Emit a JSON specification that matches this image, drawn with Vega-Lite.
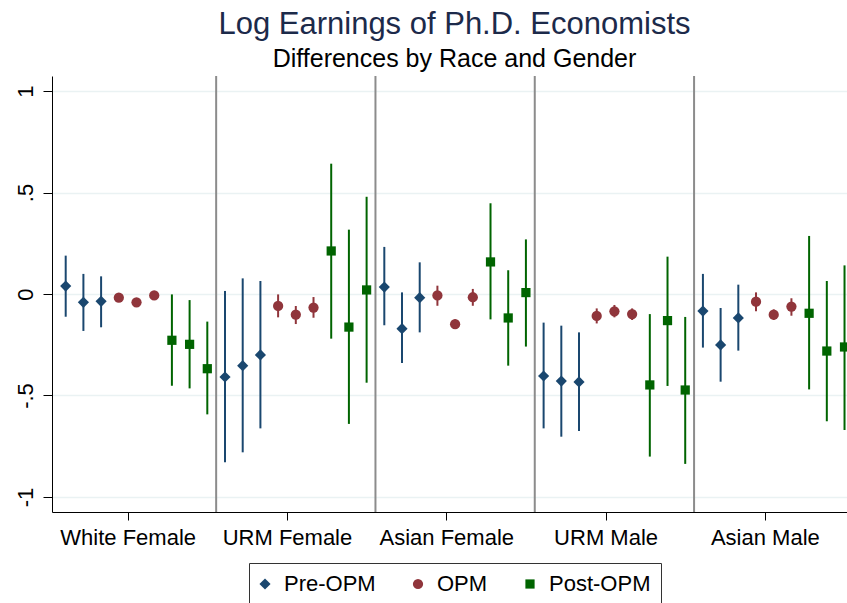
{
  "$schema": "https://vega.github.io/schema/vega-lite/v6.json",
  "width": 795,
  "height": 436,
  "autosize": {"type": "none"},
  "padding": {"left": 52, "top": 76, "right": 0, "bottom": 91},
  "background": "white",
  "title": {
    "text": "Log Earnings of Ph.D. Economists",
    "subtitle": "Differences by Race and Gender",
    "font": "Liberation Sans",
    "subtitleFont": "Liberation Sans",
    "fontSize": 31,
    "subtitleFontSize": 25,
    "fontWeight": "normal",
    "color": "#1c2a4a",
    "subtitleColor": "#000000",
    "anchor": "middle",
    "dx": 5,
    "offset": 2,
    "subtitlePadding": 6
  },
  "config": {
    "view": {"stroke": null},
    "axis": {
      "labelFont": "Liberation Sans",
      "labelFontSize": 22,
      "labelColor": "#000000",
      "domainColor": "#000000",
      "tickColor": "#000000",
      "domainWidth": 1,
      "tickWidth": 1
    },
    "legend": {
      "labelFont": "Liberation Sans",
      "labelFontSize": 22,
      "labelColor": "#000000"
    }
  },
  "layer": [
    {
      "data": {"values": [{"i": 9.5}, {"i": 18.5}, {"i": 27.5}, {"i": 36.5}]},
      "mark": {"type": "rule", "color": "#8c8c8c", "strokeWidth": 2},
      "encoding": {
        "x": {"field": "i", "type": "quantitative", "title": null}
      }
    },
    {
      "data": {"name": "est"},
      "mark": {"type": "rule", "strokeWidth": 2},
      "encoding": {
        "x": {"field": "i", "type": "quantitative", "title": null},
        "y": {"field": "lo", "type": "quantitative", "title": null},
        "y2": {"field": "hi"},
        "color": {"field": "series", "type": "nominal"}
      }
    },
    {
      "data": {"name": "est"},
      "mark": {"type": "point", "filled": true, "opacity": 1, "strokeWidth": 0},
      "encoding": {
        "x": {
          "field": "i",
          "type": "quantitative",
          "title": null,
          "scale": {"domain": [0.226, 45.14], "nice": false, "zero": false},
          "axis": {
            "values": [4.5, 13.5, 22.5, 31.5, 40.5],
            "labelExpr": "['White Female','URM Female','Asian Female','URM Male','Asian Male'][floor(datum.value / 9)]",
            "grid": false,
            "tickSize": 8,
            "labelPadding": 7,
            "labelFlush": false,
            "labelOverlap": false
          }
        },
        "y": {
          "field": "est",
          "type": "quantitative",
          "title": null,
          "scale": {"domain": [-1.074, 1.074], "nice": false, "zero": false},
          "axis": {
            "values": [-1, -0.5, 0, 0.5, 1],
            "labelExpr": "datum.value == 1 ? '1' : datum.value == -1 ? '-1' : datum.value == 0 ? '0' : datum.value > 0 ? '.5' : '-.5'",
            "grid": true,
            "gridColor": "#eaf2f3",
            "gridWidth": 1.5,
            "tickSize": 9,
            "labelAngle": 270,
            "labelAlign": "center",
            "labelBaseline": "alphabetic",
            "labelPadding": 11,
            "labelFlush": false,
            "labelOverlap": false
          }
        },
        "color": {
          "field": "series",
          "type": "nominal",
          "scale": {"domain": ["Pre-OPM", "OPM", "Post-OPM"], "range": ["#1a476f", "#90353b", "#006400"]},
          "legend": {
            "title": null,
            "orient": "none",
            "legendX": 197,
            "legendY": 487,
            "direction": "horizontal",
            "strokeColor": "#333333",
            "fillColor": "#ffffff",
            "padding": 10,
            "symbolSize": 60,
            "symbolStrokeWidth": 0,
            "symbolOffset": -5,
            "labelOffset": 8,
            "columnPadding": 36
          }
        },
        "shape": {
          "field": "series",
          "type": "nominal",
          "scale": {"domain": ["Pre-OPM", "OPM", "Post-OPM"], "range": ["diamond", "circle", "square"]}
        },
        "size": {
          "field": "series",
          "type": "nominal",
          "scale": {"domain": ["Pre-OPM", "OPM", "Post-OPM"], "range": [125, 85, 85]},
          "legend": null
        }
      }
    }
  ],
  "datasets": {
    "est": [
      {"i": 1, "series": "Pre-OPM", "est": 0.039, "lo": -0.112, "hi": 0.189},
      {"i": 2, "series": "Pre-OPM", "est": -0.041, "lo": -0.182, "hi": 0.099},
      {"i": 3, "series": "Pre-OPM", "est": -0.036, "lo": -0.164, "hi": 0.087},
      {"i": 4, "series": "OPM", "est": -0.018, "lo": -0.035, "hi": 0.0},
      {"i": 5, "series": "OPM", "est": -0.041, "lo": -0.058, "hi": -0.024},
      {"i": 6, "series": "OPM", "est": -0.007, "lo": -0.024, "hi": 0.01},
      {"i": 7, "series": "Post-OPM", "est": -0.228, "lo": -0.452, "hi": -0.002},
      {"i": 8, "series": "Post-OPM", "est": -0.248, "lo": -0.465, "hi": -0.03},
      {"i": 9, "series": "Post-OPM", "est": -0.368, "lo": -0.593, "hi": -0.136},
      {"i": 10, "series": "Pre-OPM", "est": -0.409, "lo": -0.829, "hi": 0.015},
      {"i": 11, "series": "Pre-OPM", "est": -0.353, "lo": -0.78, "hi": 0.077},
      {"i": 12, "series": "Pre-OPM", "est": -0.3, "lo": -0.662, "hi": 0.064},
      {"i": 13, "series": "OPM", "est": -0.059, "lo": -0.115, "hi": -0.002},
      {"i": 14, "series": "OPM", "est": -0.102, "lo": -0.148, "hi": -0.059},
      {"i": 15, "series": "OPM", "est": -0.067, "lo": -0.117, "hi": -0.015},
      {"i": 16, "series": "Post-OPM", "est": 0.212, "lo": -0.22, "hi": 0.642},
      {"i": 17, "series": "Post-OPM", "est": -0.163, "lo": -0.64, "hi": 0.317},
      {"i": 18, "series": "Post-OPM", "est": 0.02, "lo": -0.437, "hi": 0.479},
      {"i": 19, "series": "Pre-OPM", "est": 0.034, "lo": -0.154, "hi": 0.232},
      {"i": 20, "series": "Pre-OPM", "est": -0.171, "lo": -0.34, "hi": 0.008},
      {"i": 21, "series": "Pre-OPM", "est": -0.018, "lo": -0.189, "hi": 0.156},
      {"i": 22, "series": "OPM", "est": -0.007, "lo": -0.058, "hi": 0.041},
      {"i": 23, "series": "OPM", "est": -0.149, "lo": -0.172, "hi": -0.126},
      {"i": 24, "series": "OPM", "est": -0.016, "lo": -0.058, "hi": 0.025},
      {"i": 25, "series": "Post-OPM", "est": 0.158, "lo": -0.125, "hi": 0.447},
      {"i": 26, "series": "Post-OPM", "est": -0.118, "lo": -0.353, "hi": 0.117},
      {"i": 27, "series": "Post-OPM", "est": 0.007, "lo": -0.259, "hi": 0.269},
      {"i": 28, "series": "Pre-OPM", "est": -0.404, "lo": -0.662, "hi": -0.141},
      {"i": 29, "series": "Pre-OPM", "est": -0.429, "lo": -0.703, "hi": -0.156},
      {"i": 30, "series": "Pre-OPM", "est": -0.433, "lo": -0.675, "hi": -0.189},
      {"i": 31, "series": "OPM", "est": -0.108, "lo": -0.145, "hi": -0.071},
      {"i": 32, "series": "OPM", "est": -0.085, "lo": -0.115, "hi": -0.054},
      {"i": 33, "series": "OPM", "est": -0.099, "lo": -0.128, "hi": -0.071},
      {"i": 34, "series": "Post-OPM", "est": -0.448, "lo": -0.801, "hi": -0.099},
      {"i": 35, "series": "Post-OPM", "est": -0.131, "lo": -0.453, "hi": 0.184},
      {"i": 36, "series": "Post-OPM", "est": -0.473, "lo": -0.837, "hi": -0.113},
      {"i": 37, "series": "Pre-OPM", "est": -0.084, "lo": -0.264, "hi": 0.099},
      {"i": 38, "series": "Pre-OPM", "est": -0.251, "lo": -0.432, "hi": -0.069},
      {"i": 39, "series": "Pre-OPM", "est": -0.118, "lo": -0.279, "hi": 0.046},
      {"i": 40, "series": "OPM", "est": -0.038, "lo": -0.085, "hi": 0.008},
      {"i": 41, "series": "OPM", "est": -0.102, "lo": -0.128, "hi": -0.076},
      {"i": 42, "series": "OPM", "est": -0.062, "lo": -0.107, "hi": -0.021},
      {"i": 43, "series": "Post-OPM", "est": -0.095, "lo": -0.47, "hi": 0.286},
      {"i": 44, "series": "Post-OPM", "est": -0.281, "lo": -0.627, "hi": 0.064},
      {"i": 45, "series": "Post-OPM", "est": -0.261, "lo": -0.67, "hi": 0.141}
    ]
  }
}
